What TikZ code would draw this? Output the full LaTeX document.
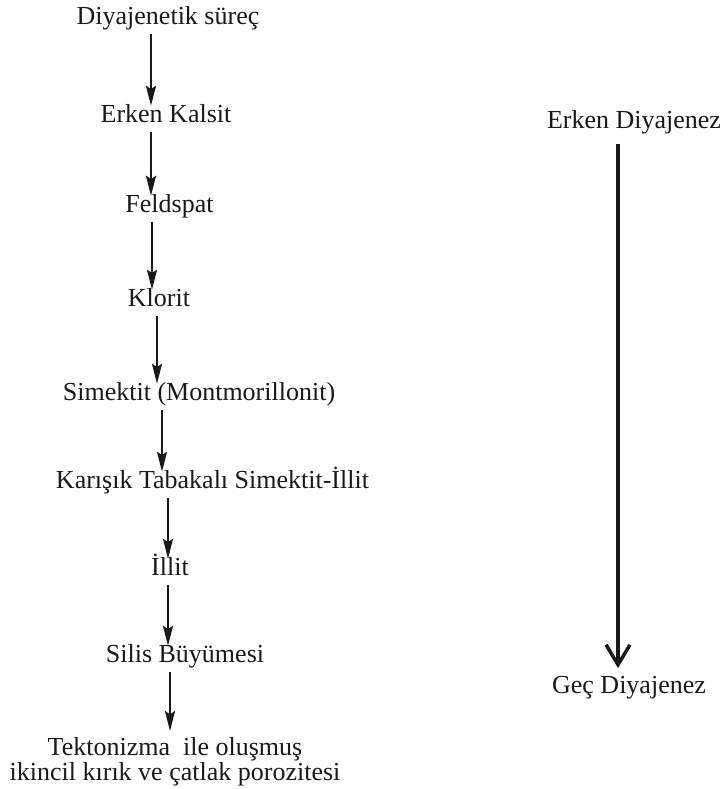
\documentclass[tikz,border=0pt]{standalone}
\usepackage{fontspec}
\setmainfont{Liberation Serif}
\usetikzlibrary{arrows.meta}

\begin{document}
\begin{tikzpicture}[x=0.75pt, y=-0.75pt,
    lbl/.style={font=\fontsize{19.5}{23}\selectfont, text=black!90, inner sep=0pt,
                text height=0.75em, text depth=0.25em, anchor=base},
    adim/.style={-{Stealth[length=15pt, width=7.5pt, inset=2.5pt]}, line width=1.5pt,
                 black!90, shorten <=4.5pt, shorten >=4.5pt},
    asure/.style={-{Straight Barb[length=15pt, width=18pt]}, line width=2.6pt,
                  black!90, shorten <=9.4pt, shorten >=11pt}]
  \useasboundingbox (0,0) rectangle (723,789);

  % Diyajenetik basamaklar
  \node[lbl] (surec) at (168,24) {Diyajenetik süreç};
  \node[lbl] (kalsit) at (166,122) {Erken Kalsit};
  \node[lbl] (feldspat) at (169.5,212) {Feldspat};
  \node[lbl] (klorit) at (159,306) {Klorit};
  \node[lbl] (simektit) at (199,400) {Simektit (Montmorillonit)};
  \node[lbl] (karisik) at (212.5,488) {Karışık Tabakalı Simektit-İllit};
  \node[lbl] (illit) at (170,575) {İllit};
  \node[lbl] (silis) at (185,662) {Silis Büyümesi};
  \node[font=\fontsize{19.5}{16.5}\selectfont, text=black!90, inner sep=0pt,
        align=center, anchor=north] (tekto) at (175,737)
        {Tektonizma~ ile oluşmuş\\ikincil kırık ve çatlak porozitesi};

  % Basamaklar arasi oklar
  \foreach \a/\b/\x in {surec/kalsit/151, kalsit/feldspat/151, feldspat/klorit/152,
                        klorit/simektit/157, simektit/karisik/162, karisik/illit/168,
                        illit/silis/168, silis/tekto/170}
    \draw[adim] (\a.south -| \x,0) -- (\b.north -| \x,0);

  % Zaman ekseni
  \node[lbl] (erken) at (634,128) {Erken Diyajenez};
  \node[lbl] (gec) at (629,693) {Geç Diyajenez};
  \draw[asure] (erken.south -| 618,0) -- (gec.north -| 618,0);
\end{tikzpicture}
\end{document}
